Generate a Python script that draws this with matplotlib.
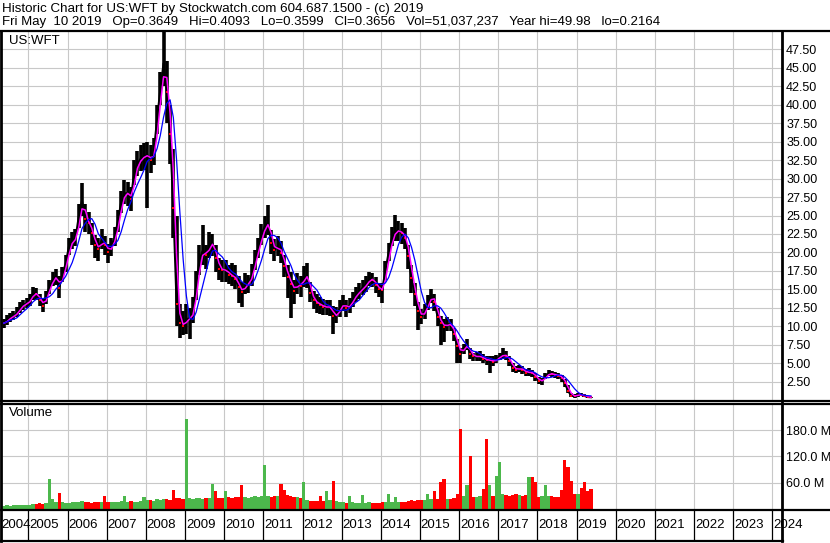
import numpy as np
import pandas as pd
import matplotlib
matplotlib.use('Agg')
import matplotlib.pyplot as plt
from matplotlib.lines import Line2D

plt.rcParams['font.family'] = ['Liberation Sans', 'DejaVu Sans']

# monthly data, May 2004 .. May 2019
close = [10.4, 10.8, 11.2, 11.4, 11.8, 12.5, 12.9, 13.1,
         13.5, 14.5, 14.3, 13.6, 12.8, 14.0, 15.3, 16.3, 16.8, 15.2, 17.0, 18.5,
         20.8, 21.6, 21.9, 24.8, 27.0, 24.5, 24.0, 22.6, 21.0, 20.5, 21.6, 21.0,
         20.1, 20.8, 22.0, 24.2, 26.8, 28.0, 28.0, 27.3, 30.8, 32.0, 32.7, 33.0,
         33.2, 32.5, 33.5, 38.0, 42.0, 45.6, 41.8, 36.0, 26.0, 13.0, 10.5, 10.0,
         11.0, 11.0, 12.0, 15.5, 19.0, 20.2, 19.6, 21.0, 21.2, 19.3, 17.8, 17.6,
         17.6, 17.0, 16.8, 16.4, 15.3, 14.6, 15.6, 15.8, 16.9, 19.0, 20.6, 22.3,
         23.5, 24.0, 21.3, 20.3, 20.8, 19.9, 18.2, 16.7, 15.7, 14.8, 15.8, 15.4,
         16.7, 16.7, 14.5, 13.5, 13.1, 12.9, 12.6, 12.6, 12.6, 11.4, 11.5, 12.4,
         13.1, 12.4, 12.8, 13.6, 14.3, 14.7, 15.2, 15.6, 16.4, 16.3, 15.6, 15.0,
         14.9, 17.5, 20.0, 22.0, 22.9, 22.9, 22.6, 22.0, 19.5, 16.5, 14.3, 12.0,
         11.3, 12.0, 13.1, 14.1, 13.3, 11.3, 10.4, 9.9, 10.3, 10.2, 9.0, 7.3,
         6.3, 7.1, 7.4, 6.3, 5.9, 5.9, 5.9, 5.6, 5.4, 5.4, 5.2, 5.5,
         5.9, 6.1, 6.0, 5.3, 4.4, 4.1, 4.3, 4.1, 3.7, 3.8, 3.6, 3.1,
         2.6, 2.6, 3.2, 3.6, 3.5, 3.4, 3.3, 3.0, 2.3, 1.2, 0.6, 0.5,
         0.75, 0.7, 0.55, 0.4, 0.37]

high = [11.0, 11.5, 11.8, 12.0, 12.6, 13.3, 13.6, 13.8,
        14.3, 15.3, 15.2, 14.4, 13.8, 14.8, 16.2, 17.3, 17.8, 16.8, 18.0, 19.6,
        22.0, 22.8, 23.2, 26.5, 29.4, 26.5, 25.5, 24.0, 22.3, 22.0, 23.2, 22.2,
        21.2, 22.0, 23.5, 25.8, 28.3, 29.8, 29.5, 28.8, 32.5, 33.8, 34.5, 34.8,
        35.0, 34.5, 35.5, 40.0, 44.5, 49.9, 46.0, 40.0, 34.0, 25.0, 13.0, 12.0,
        13.0, 12.5, 14.0, 17.5, 21.0, 23.7, 21.0, 22.8, 22.5, 21.0, 19.3, 19.0,
        19.0, 18.3, 18.6, 18.3, 16.8, 16.0, 17.2, 17.0, 18.4, 20.3, 22.0, 23.8,
        25.0, 26.4, 23.0, 21.8, 22.2, 21.5, 19.7, 18.3, 17.4, 16.3, 17.2, 16.8,
        18.2, 18.5, 16.0, 14.8, 14.3, 14.0, 13.7, 13.6, 13.5, 12.8, 12.6, 13.5,
        14.2, 13.5, 13.8, 14.6, 15.3, 15.8, 16.3, 16.8, 17.3, 17.2, 16.6, 15.8,
        15.8, 18.8, 21.3, 23.5, 25.1, 24.3, 24.0, 23.3, 21.0, 18.3, 15.8, 13.3,
        12.3, 13.0, 14.2, 15.0, 14.3, 12.5, 11.4, 11.0, 11.3, 11.0, 9.8, 8.3,
        7.0, 7.6, 8.2, 7.0, 6.4, 6.5, 6.6, 6.2, 6.0, 5.9, 5.9, 6.1,
        6.4, 7.0, 6.6, 5.9, 5.0, 4.6, 4.8, 4.6, 4.2, 4.3, 4.1, 3.6,
        3.1, 3.0, 3.7, 4.0, 3.9, 3.8, 3.7, 3.4, 2.9, 2.0, 1.0, 0.8,
        0.95, 0.9, 0.75, 0.55, 0.45]

low = [9.8, 10.2, 10.6, 10.8, 11.2, 11.8, 12.2, 12.4,
       12.8, 13.6, 13.5, 12.7, 11.9, 13.0, 14.4, 15.4, 15.6, 13.8, 16.0, 17.4,
       19.6, 20.5, 20.8, 23.3, 25.0, 22.8, 22.5, 21.0, 19.2, 18.8, 20.4, 19.6,
       18.6, 19.5, 20.8, 22.8, 25.3, 26.5, 26.3, 25.6, 29.2, 30.3, 31.0, 31.2,
       26.0, 30.8, 31.8, 36.0, 40.0, 42.5, 37.5, 32.0, 22.0, 10.0, 8.4, 8.8,
       9.0, 8.2, 10.5, 13.5, 17.0, 18.3, 17.8, 19.3, 19.5, 17.3, 16.2, 16.0,
       16.0, 15.7, 15.4, 15.0, 13.2, 12.6, 14.3, 14.5, 15.4, 17.6, 19.3, 21.0,
       22.0, 22.4, 19.8, 18.8, 19.5, 18.5, 16.6, 13.8, 11.1, 13.0, 14.3, 14.0,
       15.3, 15.2, 13.3, 12.3, 11.8, 11.6, 11.5, 11.5, 11.4, 9.0, 10.4, 11.3,
       12.0, 11.3, 11.8, 12.6, 13.3, 13.7, 14.2, 14.6, 15.4, 15.3, 14.5, 14.0,
       13.2, 16.3, 18.8, 20.8, 21.5, 21.5, 21.2, 20.5, 17.8, 14.5, 12.8, 9.5,
       10.3, 11.0, 12.2, 13.2, 12.0, 10.0, 7.5, 7.8, 9.3, 9.3, 8.0, 5.0,
       5.0, 6.3, 6.8, 5.5, 5.3, 5.3, 5.3, 5.0, 4.8, 3.7, 4.6, 5.0,
       5.4, 5.6, 5.4, 4.6, 3.8, 3.6, 3.8, 3.5, 3.2, 3.3, 3.1, 2.6,
       2.2, 2.1, 2.8, 3.2, 3.1, 3.0, 2.9, 2.5, 1.8, 0.9, 0.4, 0.3,
       0.45, 0.5, 0.4, 0.3, 0.22]

# typical weekly volume in millions
volume = [7, 8, 6, 9, 8, 10, 9, 8,
          10, 12, 11, 13, 12, 14, 68, 23, 15, 37, 16, 14,
          14, 16, 15, 17, 18, 16, 15, 14, 16, 15, 15, 30,
          15, 16, 17, 16, 18, 30, 17, 18, 16, 17, 18, 28,
          20, 21, 19, 22, 20, 23, 22, 21, 43, 25, 24, 23,
          205, 24, 22, 25, 24, 22, 26, 24, 57, 42, 25, 24,
          42, 27, 26, 28, 27, 55, 28, 26, 27, 29, 28, 30,
          100, 30, 28, 29, 30, 58, 44, 32, 30, 28, 27, 26,
          61, 20, 18, 19, 18, 30, 19, 40, 20, 63, 18, 17,
          15, 14, 30, 15, 14, 13, 32, 14, 15, 14, 13, 14,
          15, 16, 35, 17, 28, 16, 15, 17, 18, 20, 19, 21,
          20, 21, 35, 22, 42, 22, 61, 68, 23, 22, 24, 35,
          182, 30, 54, 121, 28, 27, 30, 46, 160, 54, 30, 75,
          107, 35, 33, 30, 32, 34, 31, 30, 33, 74, 74, 61,
          28, 30, 54, 29, 30, 28, 27, 44, 111, 97, 63, 34,
          35, 49, 61, 40, 45]

years = list(range(2004, 2025))
price_ticks = np.arange(2.5, 48, 2.5)
vol_ticks = [60, 120, 180]

months = pd.date_range('2004-05-01', periods=len(close), freq='MS')
xpos = np.array(months.year + (months.month - 0.6) / 12)
cl = pd.Series(close)
ma_fast = cl.rolling(2, min_periods=1).mean()
ma_slow = cl.rolling(5, min_periods=1).mean()
down = np.r_[False, np.diff(close) < 0]

W, H = 830, 543
def fx(px):
    return px / W
def fy(py):
    return 1 - py / H

fig = plt.figure(figsize=(W / 100, H / 100), dpi=100)
xlim = (2004.298, 2024.247)
grid_c = '#c8c8c8'

ax = fig.add_axes([fx(1), fy(400), fx(781), (400 - 31) / H])
axv = fig.add_axes([fx(1), fy(509), fx(781), (509 - 403) / H])
axy = fig.add_axes([fx(1), fy(541), fx(781), (541 - 509) / H])

for a in (ax, axv, axy):
    a.set_xlim(*xlim)
    for s in a.spines.values():
        s.set_visible(False)
    a.set_xticks([])

# price panel
ax.set_ylim(0, 50)
for yr in years[1:]:
    ax.axvline(yr, color=grid_c, lw=0.8, zorder=0)
for t in price_ticks:
    ax.axhline(t, color=grid_c, lw=0.8, zorder=0)
ax.vlines(xpos, low, high, color='black', lw=2.6, zorder=2)
ax.plot(xpos, close, color='black', lw=1.5, zorder=2)
ax.plot(xpos[down], np.array(close)[down], 's', color='red', ms=2, mew=0, zorder=3)
ax.plot(xpos, ma_fast, color='magenta', lw=1.1, zorder=4)
ax.plot(xpos, ma_slow, color='blue', lw=0.9, zorder=5)
ax.yaxis.tick_right()
ax.set_yticks(price_ticks)
ax.set_yticklabels(['%.2f' % t for t in price_ticks], fontsize=9)
ax.tick_params(axis='y', length=0, pad=3)
ax.text(fx(8) / fx(781), 1 - 10 / 369, 'US:WFT', transform=ax.transAxes,
        fontsize=9.5, va='center', ha='left')

# volume panel
axv.set_ylim(0, 242)
for yr in years[1:]:
    axv.axvline(yr, color=grid_c, lw=0.8, zorder=0)
for t in vol_ticks:
    axv.axhline(t, color=grid_c, lw=0.8, zorder=0)
vcol = np.where(down, '#ff0000', '#4cb84c')
axv.bar(xpos, volume, width=1 / 12, color=vcol, zorder=2)
axv.yaxis.tick_right()
axv.set_yticks(vol_ticks)
axv.set_yticklabels(['%.1f M' % t for t in vol_ticks], fontsize=9)
axv.tick_params(axis='y', length=0, pad=3)
axv.text(fx(8) / fx(781), 1 - 10 / 106, 'Volume', transform=axv.transAxes,
         fontsize=9.5, va='center', ha='left')

# year strip
axy.set_ylim(0, 1)
axy.set_yticks([])
for yr in years[1:]:
    axy.axvline(yr, color='black', lw=0.9)
for yr in years:
    axy.text(max(yr, xlim[0]) + 0.02, 0.5, str(yr), fontsize=9.5,
             va='center', ha='left', clip_on=False)

# frame lines
def hline(py, x0=0, x1=W, lw=1.6):
    fig.add_artist(Line2D([fx(x0), fx(x1)], [fy(py), fy(py)], color='black', lw=lw))
def vline(px, y0, y1, lw=1.6):
    fig.add_artist(Line2D([fx(px), fx(px)], [fy(y0), fy(y1)], color='black', lw=lw))

hline(31)
hline(400.5)
hline(403.5)
hline(509.5)
hline(541, 0, 783)
vline(782, 31, 541, lw=2)
vline(1, 31, 541, lw=2)

fig.text(fx(2), fy(9), 'Historic Chart for US:WFT by Stockwatch.com 604.687.1500 - (c) 2019',
         fontsize=9.6, va='center', ha='left')
fig.text(fx(2), fy(22.5), 'Fri May  10 2019   Op=0.3649   Hi=0.4093   Lo=0.3599   Cl=0.3656'
         '   Vol=51,037,237   Year hi=49.98   lo=0.2164',
         fontsize=9.5, va='center', ha='left')

fig.savefig('out.png', dpi=100)
